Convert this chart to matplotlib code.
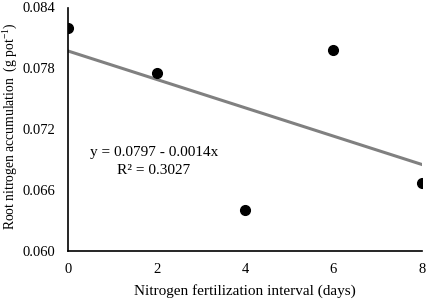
import numpy as np
from matplotlib import pyplot as plt

plt.rcParams['font.family'] = 'Liberation Serif'
plt.rcParams['mathtext.fontset'] = 'custom'
plt.rcParams['mathtext.rm'] = 'Liberation Serif'

interval = [0, 2, 4, 6, 8]
root_n = [0.0820, 0.0775, 0.0640, 0.0798, 0.0667]
intercept = 0.0797
slope = -0.0014
r2 = 0.3027

fig = plt.figure(figsize=(4.26, 3.0), dpi=100)
ax = fig.add_axes([0.16, 0.165, 0.83, 0.81])

xfit = np.array([interval[0], interval[-1]])
ax.plot(xfit, intercept + slope * xfit, color='#808080', lw=2.2, zorder=1)
ax.plot(interval, root_n, 'o', color='black', ms=7, zorder=2)

ax.text(1.94, 0.0697, f"y = {intercept} - {abs(slope)}x",
        ha='center', va='center', fontsize=11)
ax.text(1.94, 0.0679, f"R² = {r2}", ha='center', va='center', fontsize=11)

ax.set_xlim(0, 8)
ax.set_ylim(0.060, 0.084)
ax.set_xticks([0, 2, 4, 6, 8])
ax.set_yticks([0.060, 0.066, 0.072, 0.078, 0.084])
ax.yaxis.set_major_formatter(plt.FormatStrFormatter('%.3f'))
ax.tick_params(length=0, labelsize=10.5, pad=9)
for side in ('top', 'right'):
    ax.spines[side].set_visible(False)
ax.spines['left'].set_linewidth(1.2)
ax.spines['bottom'].set_linewidth(1.2)

ax.set_xlabel("Nitrogen fertilization interval (days)", fontsize=11, labelpad=6)
ax.set_ylabel("Root nitrogen accumulation  (g pot$^{-1}$)", fontsize=9.8)
ax.yaxis.set_label_coords(-0.14, 0.51)

fig.savefig("out.png", dpi=100)
